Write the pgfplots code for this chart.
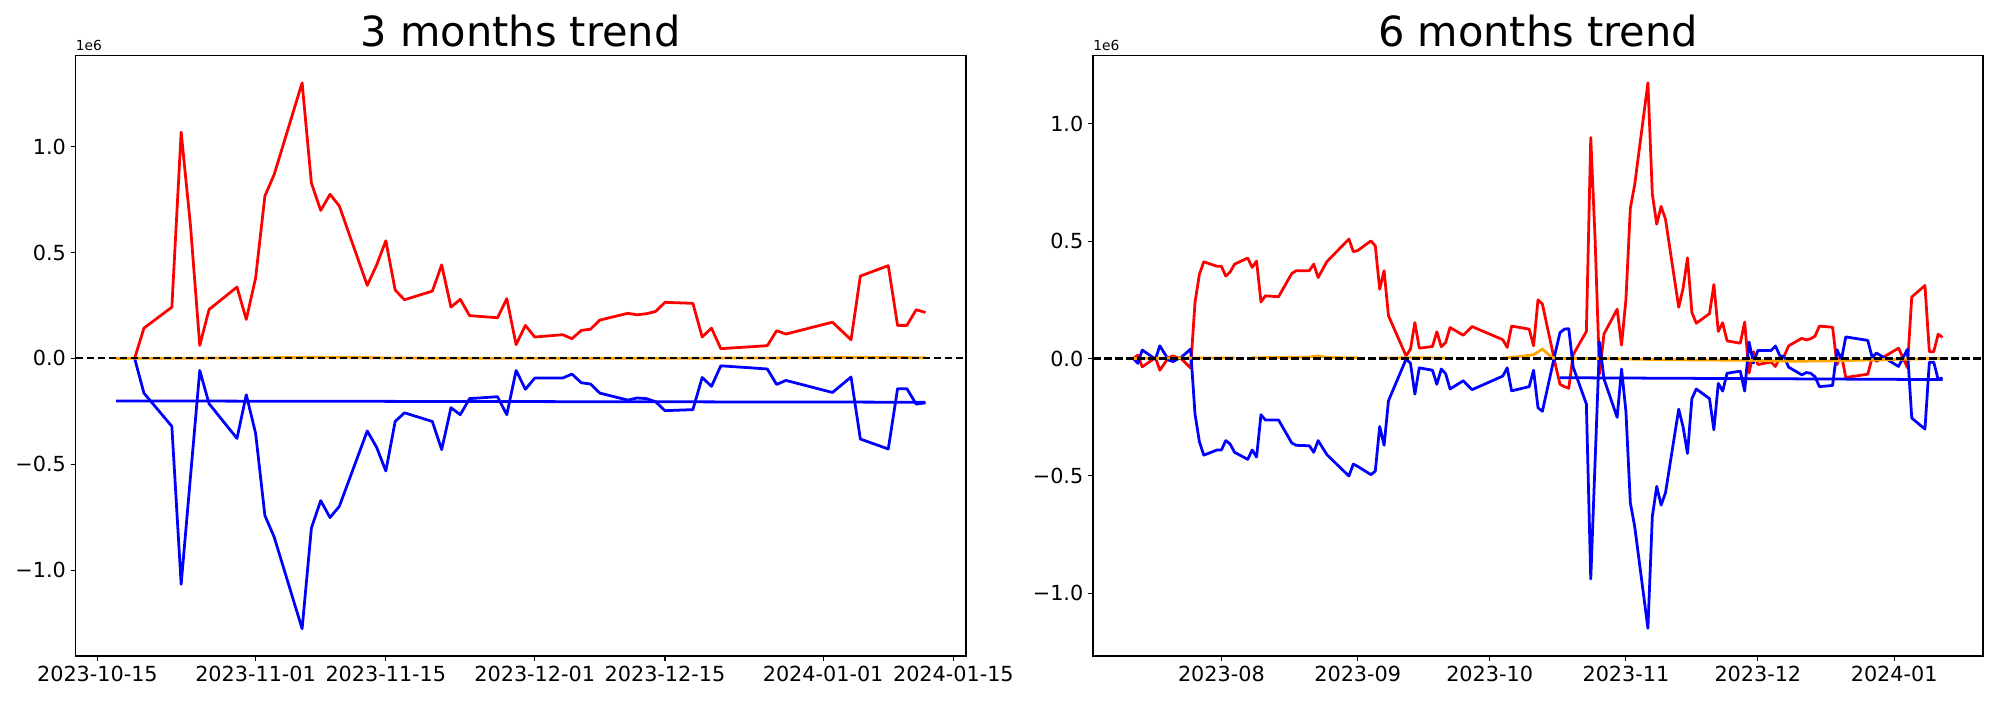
\documentclass[border=0pt]{standalone}
\usepackage{fontspec}
\setmainfont{DejaVu Sans}
\usepackage{pgfplots}
\usepackage{pgfplotstable}
\pgfplotsset{compat=1.18}
\definecolor{mplorange}{HTML}{FFA500}

% 3 months window: day offset from 2023-10-15, values in units of 1e6
\pgfplotstableread{
d red blue
4 0 0
5 0.143 -0.164
8 0.242 -0.321
9 1.069 -1.067
10 0.628 -0.560
11 0.061 -0.057
12 0.231 -0.214
15 0.337 -0.378
16 0.184 -0.172
17 0.379 -0.353
18 0.767 -0.742
19 0.869 -0.844
22 1.302 -1.277
23 0.828 -0.801
24 0.699 -0.672
25 0.775 -0.752
26 0.720 -0.699
29 0.345 -0.343
30 0.440 -0.419
31 0.556 -0.532
32 0.323 -0.298
33 0.277 -0.257
36 0.318 -0.298
37 0.442 -0.431
38 0.242 -0.233
39 0.279 -0.266
40 0.202 -0.190
43 0.192 -0.181
44 0.282 -0.266
45 0.065 -0.057
46 0.156 -0.146
47 0.101 -0.093
50 0.112 -0.093
51 0.093 -0.074
52 0.132 -0.115
53 0.138 -0.121
54 0.181 -0.164
57 0.213 -0.197
58 0.206 -0.187
59 0.211 -0.190
60 0.222 -0.205
61 0.265 -0.247
64 0.260 -0.242
65 0.101 -0.090
66 0.143 -0.132
67 0.046 -0.035
72 0.060 -0.050
73 0.131 -0.123
74 0.115 -0.104
79 0.171 -0.161
81 0.088 -0.088
82 0.389 -0.381
85 0.438 -0.428
86 0.156 -0.143
87 0.156 -0.143
88 0.230 -0.216
89 0.217 -0.210
}\threemain

\pgfplotstableread{
d v
2 0
10 0.001
16 0.002
20 0.004
24 0.006
28 0.005
31 0.002
36 0.001
50 0.001
64 0.001
72 0.002
78 0.004
82 0.005
86 0.004
89 0.003
}\threeorange

% 6 months window: day offset from 2023-08-01
\pgfplotstableread{
d red blue
-20 0 0
-19 0.014 -0.021
-18 -0.036 0.036
-15 0.004 -0.003
-14 -0.050 0.054
-12 0.004 -0.007
-11 0.011 -0.013
-9 -0.003 0.007
-7 -0.041 0.040
-6 0.239 -0.237
-5 0.359 -0.355
-4 0.412 -0.412
-1 0.393 -0.390
0 0.393 -0.390
1 0.351 -0.350
2 0.369 -0.365
3 0.402 -0.400
6 0.428 -0.430
7 0.388 -0.390
8 0.415 -0.420
9 0.241 -0.240
10 0.267 -0.262
13 0.263 -0.262
16 0.362 -0.360
17 0.374 -0.370
20 0.374 -0.372
21 0.402 -0.400
22 0.345 -0.350
24 0.413 -0.410
29 0.509 -0.501
30 0.455 -0.450
31 0.460 -0.460
34 0.501 -0.495
35 0.480 -0.480
36 0.295 -0.290
37 0.374 -0.370
38 0.182 -0.180
42 0.011 -0.003
43 0.040 -0.020
44 0.153 -0.152
45 0.044 -0.040
48 0.051 -0.050
49 0.114 -0.110
50 0.050 -0.045
51 0.068 -0.065
52 0.132 -0.130
55 0.099 -0.095
57 0.136 -0.133
64 0.080 -0.075
65 0.047 -0.040
66 0.138 -0.138
70 0.125 -0.120
71 0.054 -0.050
72 0.250 -0.210
73 0.232 -0.225
76 -0.030 0.030
77 -0.110 0.110
78 -0.120 0.125
79 -0.127 0.127
80 0.016 -0.037
83 0.115 -0.194
84 0.942 -0.940
85 0.501 -0.433
86 -0.066 0.070
87 0.104 -0.087
90 0.210 -0.251
91 0.057 -0.045
92 0.252 -0.226
93 0.640 -0.615
94 0.742 -0.717
97 1.175 -1.150
98 0.701 -0.674
99 0.572 -0.545
100 0.648 -0.625
101 0.593 -0.572
104 0.218 -0.216
105 0.300 -0.292
106 0.429 -0.405
107 0.196 -0.171
108 0.150 -0.130
111 0.191 -0.171
112 0.315 -0.304
113 0.115 -0.106
114 0.152 -0.139
115 0.075 -0.063
118 0.065 -0.054
119 0.155 -0.139
120 -0.062 0.070
121 0.029 -0.019
122 -0.026 0.034
125 -0.015 0.034
126 -0.034 0.053
127 0.005 0.012
128 0.011 0.006
129 0.054 -0.037
132 0.086 -0.070
133 0.079 -0.060
134 0.084 -0.063
135 0.095 -0.078
136 0.138 -0.120
139 0.133 -0.115
140 -0.026 0.037
141 0.016 -0.005
142 -0.081 0.092
147 -0.067 0.077
148 0.004 0.004
149 -0.012 0.023
154 0.044 -0.034
156 -0.039 0.039
157 0.262 -0.254
160 0.311 -0.301
161 0.029 -0.016
162 0.029 -0.016
163 0.103 -0.089
164 0.090 -0.083
}\sixmain

\pgfplotstableread{
d v
-20 0
-10 0.002
3 0.002
4 nan
7 0.003
20 0.006
22 0.011
24 0.004
31 0.003
32 nan
36 0.002
45 0.003
51 0.002
52 nan
64 0.001
69 0.011
71 0.016
73 0.040
75 0.007
76 0
85 0
100 -0.005
120 -0.008
130 -0.012
140 -0.010
150 -0.005
164 0
}\sixorange

\pgfplotsset{
  trend/.style={
    scale only axis,
    width=643.5pt, height=434.3pt,
    anchor=south west,
    axis line style={line width=0.8pt, black},
    tick align=outside, tick pos=left,
    major tick length=3.5pt,
    major tick style={line width=0.8pt, black},
    tick label style={font=\fontsize{15}{18}\selectfont},
    ytick={-1,-0.5,0,0.5,1},
    yticklabels={−1.0,−0.5,0.0,0.5,1.0},
    unbounded coords=jump,
  },
  redline/.style={red, line width=2pt, line join=round},
  blueline/.style={blue, line width=2pt, line join=round},
  zeroline/.style={black, line width=1.5pt, dash pattern=on 5.55pt off 2.4pt},
}

\begin{document}
\begin{tikzpicture}
\useasboundingbox (0,0) rectangle (1445.4pt,505.9pt);

\begin{axis}[trend, name=three, at={(54.6pt,31.8pt)},
  xmin=-2.35, xmax=93.35, ymin=-1.406, ymax=1.433,
  xtick={0,17,31,47,61,78,92},
  xticklabels={2023-10-15,2023-11-01,2023-11-15,2023-12-01,2023-12-15,2024-01-01,2024-01-15}]
\addplot[redline] table[x=d, y=red] {\threemain};
\addplot[blueline] table[x=d, y=blue] {\threemain};
\addplot[blueline] coordinates {(2,-0.201) (89,-0.207)};
\addplot[mplorange, line width=2pt] table[x=d, y=v] {\threeorange};
\addplot[zeroline] coordinates {(-2.35,0) (93.35,0)};
\end{axis}
\node[anchor=base, font=\fontsize{30}{36}\selectfont] at ([yshift=6pt]three.north) {3 months trend};
\node[anchor=south west, inner sep=0pt, font=\fontsize{10}{12}\selectfont] at ([yshift=3pt]three.north west) {1e6};

\begin{axis}[trend, name=six, at={(789.9pt,31.8pt)}, width=643.2pt,
  xmin=-29.2, xmax=173.2, ymin=-1.268, ymax=1.293,
  xtick={0,31,61,92,122,153},
  xticklabels={2023-08,2023-09,2023-10,2023-11,2023-12,2024-01}]
\addplot[redline] table[x=d, y=red] {\sixmain};
\addplot[blueline] table[x=d, y=blue] {\sixmain};
\addplot[blueline] coordinates {(77,-0.082) (164,-0.090)};
\addplot[mplorange, line width=2pt] table[x=d, y=v] {\sixorange};
\addplot[zeroline] coordinates {(-29.2,0) (173.2,0)};
\end{axis}
\node[anchor=base, font=\fontsize{30}{36}\selectfont] at ([yshift=6pt]six.north) {6 months trend};
\node[anchor=south west, inner sep=0pt, font=\fontsize{10}{12}\selectfont] at ([yshift=3pt]six.north west) {1e6};
\end{tikzpicture}
\end{document}
